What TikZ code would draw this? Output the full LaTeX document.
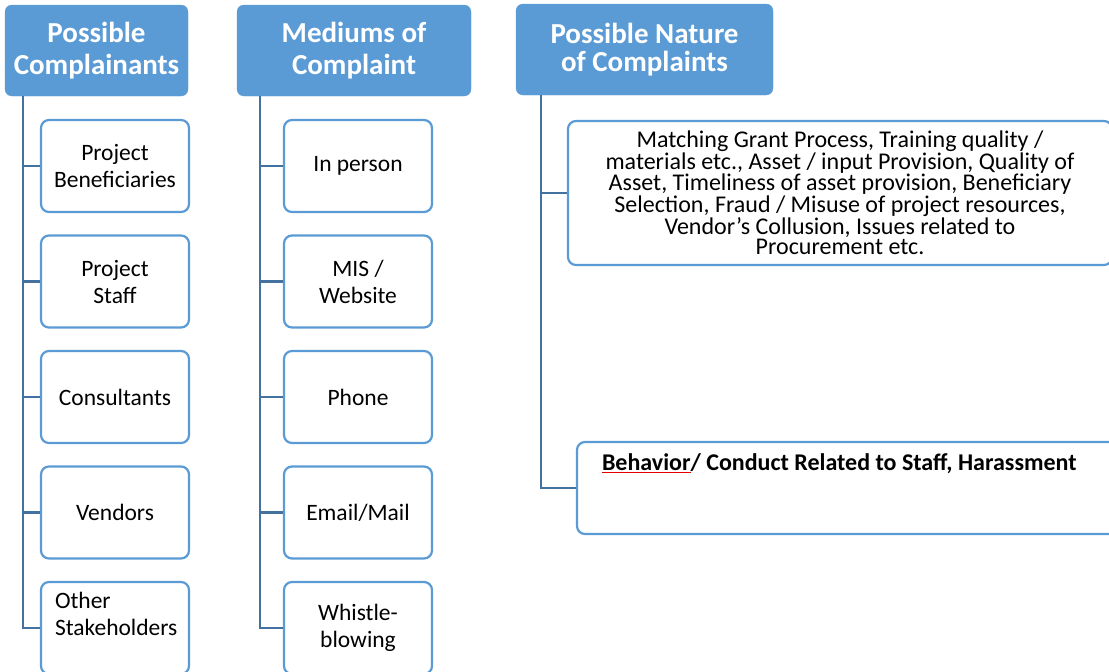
\documentclass[tikz,border=0pt]{standalone}
\usepackage{fontspec}
\setmainfont{Carlito}
\usetikzlibrary{positioning}

\definecolor{headblue}{RGB}{91,155,213}
\definecolor{treeblue}{RGB}{68,114,160}
\definecolor{spellred}{RGB}{230,0,0}

% red spell-check stroke under a word
\newcommand{\spellmark}[1]{\textcolor{spellred}{\underline{\textcolor{black}{#1}}}}

\begin{document}
\begin{tikzpicture}[
    x=1pt, y=-1pt,
    head/.style ={rectangle, rounded corners=7pt, draw=headblue, fill=headblue, text=white, align=center, inner sep=0pt, minimum height=91pt, font=\fontsize{29}{32}\selectfont\bfseries},
    item/.style ={rectangle, rounded corners=8pt, draw=headblue, line width=2.2pt, fill=white, align=center, inner sep=0pt, minimum width=148pt, minimum height=92pt, font=\fontsize{23.5}{27}\selectfont},
    line/.style ={draw=treeblue, line width=2.2pt},
]
\useasboundingbox (0,0) rectangle (1109,672);
\clip (0,0) rectangle (1109,672);

% Headers
\node [head, minimum width=183pt] (compl) at (96.5,50.5) {Possible\\Complainants};
\node [head, minimum width=234pt] (medium) at (354,50.5) {Mediums of\\Complaint};
\node [head, minimum width=257pt, font=\fontsize{29}{28}\selectfont\bfseries] (nature) at (644.5,49.5) {Possible Nature\\of Complaints};

% Complainants
\node [item] (benef) at (115,166) {Project\\Beneficiaries};
\node [item, below=21.3pt of benef] (staff) {Project\\Staff};
\node [item, below=21.3pt of staff] (consult) {Consultants};
\node [item, below=21.3pt of consult] (vendor) {Vendors};
\node [item, below=21.3pt of vendor] (others) {\parbox[c][72pt][t]{120pt}{Other\\Stakeholders}};

% Mediums
\node [item] (person) at (358,166) {In person};
\node [item, below=21.3pt of person] (mis) {MIS /\\Website};
\node [item, below=21.3pt of mis] (phone) {Phone};
\node [item, below=21.3pt of phone] (email) {Email/Mail};
\node [item, below=21.3pt of email] (whistle) {Whistle-\\blowing};

% Nature
\node [item, minimum width=544pt, minimum height=144pt, font=\fontsize{24}{20.4}\selectfont] (process) at (840,193) {Matching Grant Process, Training quality /\\materials etc., Asset / input Provision, Quality of\\Asset, Timeliness of asset provision, Beneficiary\\Selection, Fraud / Misuse of project resources,\\Vendor's Collusion, Issues related to\\Procurement etc.};
\node [item, minimum width=544pt, font=\fontsize{24}{28}\selectfont\bfseries] (conduct) at (849,488) {\parbox[c][72pt][t]{494pt}{\vspace*{2pt}\spellmark{Behavior}/ Conduct Related to Staff, Harassment}};

% Lines
\path [line] ([xshift=18pt]compl.south west) |- (benef.west);
\path [line] ([xshift=18pt]compl.south west) |- (staff.west);
\path [line] ([xshift=18pt]compl.south west) |- (consult.west);
\path [line] ([xshift=18pt]compl.south west) |- (vendor.west);
\path [line] ([xshift=18pt]compl.south west) |- (others.west);

\path [line] ([xshift=23pt]medium.south west) |- (person.west);
\path [line] ([xshift=23pt]medium.south west) |- (mis.west);
\path [line] ([xshift=23pt]medium.south west) |- (phone.west);
\path [line] ([xshift=23pt]medium.south west) |- (email.west);
\path [line] ([xshift=23pt]medium.south west) |- (whistle.west);

\path [line] ([xshift=25pt]nature.south west) |- (process.west);
\path [line] ([xshift=25pt]nature.south west) |- (conduct.west);

\end{tikzpicture}
\end{document}
